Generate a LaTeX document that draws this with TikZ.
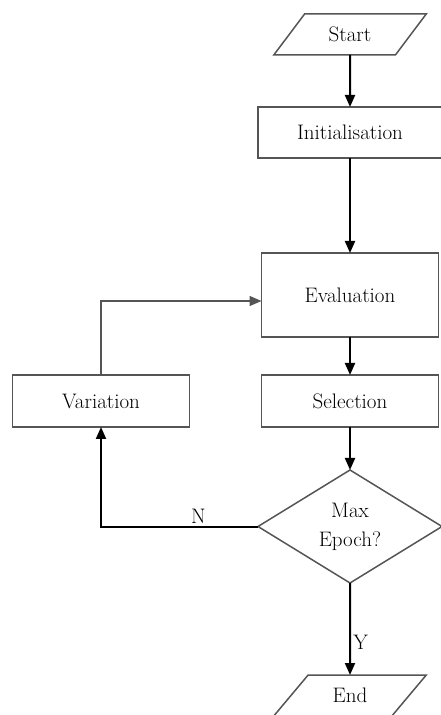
\documentclass[tikz,border=0pt]{standalone}
\usepackage{xcolor}
\usepackage{tikz}
\usetikzlibrary{positioning,shapes.geometric,arrows.meta}
\definecolor{mygray}{RGB}{85,85,85}

\begin{document}
\begin{tikzpicture}[x=1pt, y=1pt,
    every node/.style={font=\fontsize{21}{29}\selectfont, outer sep=0pt},
    block/.style={rectangle, draw=mygray, line width=1.5pt, minimum width=177pt, minimum height=52pt, inner sep=0pt},
    io/.style={trapezium, trapezium left angle=46, trapezium right angle=134, trapezium stretches=true, draw=mygray, line width=1.5pt, minimum width=153pt, minimum height=41pt, inner sep=0pt},
    decision/.style={diamond, draw=mygray, line width=1.5pt, minimum width=184pt, minimum height=113pt, inner sep=0pt, align=center},
    arr/.style={line width=2pt, -{Triangle[length=12pt,width=10pt]}}]
    \useasboundingbox (0,0) rectangle (440,715);

    \node[io] (start) at (350,680.5) {Start};
    \node[block, minimum width=184pt, minimum height=51pt] (init) [below=52pt of start] {Initialisation};
    \node[block, minimum height=84pt] (eval) [below=95pt of init] {Evaluation};
    \node[block] (sel) [below=38pt of eval] {Selection};
    \node[block] (var) [left=72pt of sel] {Variation};
    \node[decision] (dec) [below=43pt of sel] {Max\\Epoch?};
    \node[io] (end) [below=92pt of dec] {End};

    \path (start) edge[arr] (init)
          (init) edge[arr] (eval)
          (eval) edge[arr] (sel)
          (sel) edge[arr] (dec)
          (dec) edge[arr] node[right, pos=0.65] {Y} (end);
    \draw[arr, draw=mygray, line width=1.5pt] (var.north) |- ([yshift=-6pt]eval.west);
    \draw[arr] (dec.west) -| node[above, pos=0.19] {N} (var.south);
\end{tikzpicture}
\end{document}
